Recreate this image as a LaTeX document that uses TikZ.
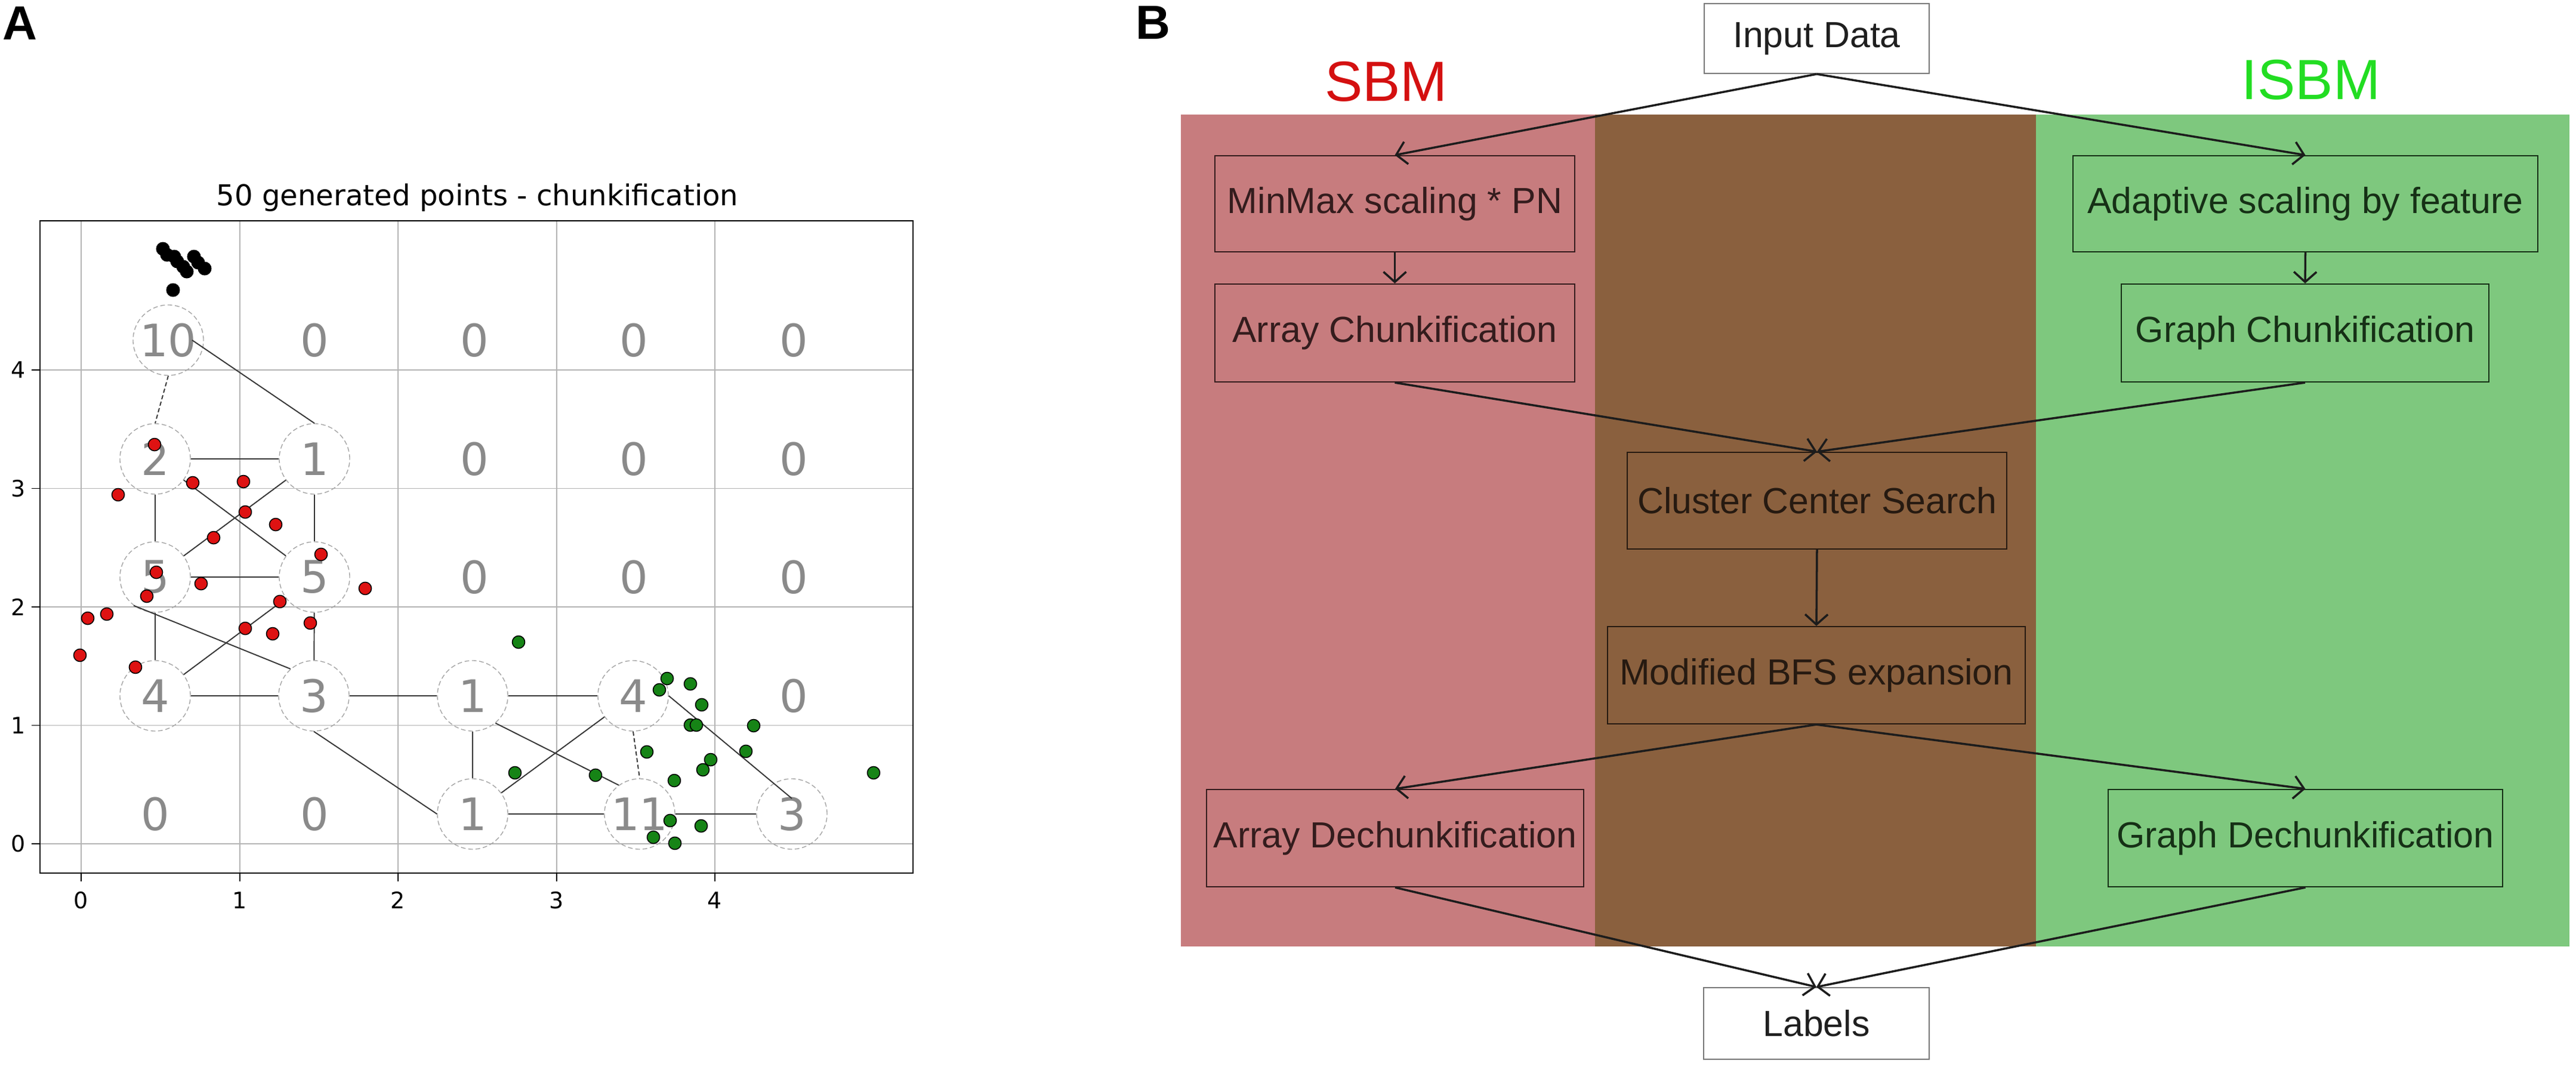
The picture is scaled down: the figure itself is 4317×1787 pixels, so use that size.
\documentclass[tikz,border=0pt]{standalone}
\usepackage{fontspec}
\setmainfont{Liberation Sans}
\newfontfamily\dejavu{DejaVu Sans}
\usetikzlibrary{arrows.meta}
\definecolor{regred}{RGB}{199,124,126}
\definecolor{regbrown}{RGB}{138,96,62}
\definecolor{reggreen}{RGB}{126,200,126}
\definecolor{sbmred}{RGB}{212,16,16}
\definecolor{isbmgreen}{RGB}{34,221,34}
\definecolor{txtred}{RGB}{52,28,29}
\definecolor{txtbrown}{RGB}{38,26,17}
\definecolor{txtgreen}{RGB}{22,48,22}
\definecolor{arrowcol}{RGB}{28,28,28}
\definecolor{boxgray}{RGB}{120,120,120}
\definecolor{gridgray}{RGB}{180,180,180}
\definecolor{circgray}{RGB}{165,165,165}
\definecolor{numgray}{RGB}{138,138,138}
\definecolor{edgegray}{RGB}{55,55,55}
\definecolor{dotred}{RGB}{222,18,18}
\definecolor{dotgreen}{RGB}{22,132,22}
\begin{document}
\begin{tikzpicture}[x=0.01cm,y=-0.01cm,
  fbox/.style={draw, line width=0.6pt, inner sep=0pt, font=\fontsize{17.3}{20}\selectfont},
  redbox/.style={fbox, draw=txtred, text=txtred},
  brownbox/.style={fbox, draw=txtbrown, text=txtbrown},
  greenbox/.style={fbox, draw=txtgreen, text=txtgreen},
  whitebox/.style={fbox, draw=boxgray, fill=white, text=black!88},
  flowarrow/.style={draw=arrowcol, line width=1pt, -{Straight Barb[length=0.17cm,width=0.38cm]}},
  paneltag/.style={font=\bfseries\fontsize{22.8}{26}\selectfont, inner sep=0pt, anchor=base},
  methodtag/.style={font=\fontsize{27}{30}\selectfont, inner sep=0pt, anchor=base},
  gridline/.style={draw=gridgray, line width=0.5pt},
  chunk/.style={circle, draw=circgray, line width=0.4pt, dash pattern=on 2.2pt off 1.3pt, minimum size=1.18cm, inner sep=0pt, text=numgray, font=\dejavu\fontsize{21.3}{24}\selectfont},
  zero/.style={inner sep=0pt, text=numgray, font=\dejavu\fontsize{21.3}{24}\selectfont},
  edge/.style={draw=edgegray, line width=0.55pt},
  dashededge/.style={edge, dash pattern=on 2pt off 1.2pt},
  ticklabel/.style={inner sep=0pt, font=\dejavu\fontsize{10.8}{12}\selectfont},
  reddot/.style={fill=dotred, draw=black, line width=0.45pt},
  greendot/.style={fill=dotgreen, draw=black, line width=0.45pt},
  blackdot/.style={fill=black}
]
\useasboundingbox (0,0) rectangle (4317,1787);
\fill[white] (0,0) rectangle (4317,1787);

% ================= Panel A =================
\node[paneltag] (tagA) at (33,66) {A};
\node[inner sep=0pt, anchor=base, font=\dejavu\fontsize{13.7}{16}\selectfont] (title) at (800,344) {50 generated points - chunkification};

% grid
\foreach \xx in {136,402,667,933,1198} {\draw[gridline] (\xx,370) -- (\xx,1463);}
\foreach \yy in {1414,1215.5,1017,818.5,620} {\draw[gridline] (67,\yy) -- (1530,\yy);}
% frame
\draw[line width=0.8pt] (67,370) rectangle (1530,1463);
% ticks and tick labels
\foreach \i/\xx in {0/136,1/402,2/667,3/933,4/1198} {
  \draw[line width=0.55pt] (\xx,1463) -- (\xx,1477);
  \node[ticklabel, anchor=north] (xt\i) at (\xx,1494) {\i};
}
\foreach \i/\yy in {0/1414,1/1215.5,2/1017,3/818.5,4/620} {
  \draw[line width=0.55pt] (67,\yy) -- (53,\yy);
  \node[ticklabel, anchor=east] (yt\i) at (43,\yy) {\i};
}

% chunk counts
\node[chunk] (n10) at (282,570) {10};
\node[zero] (z14) at (527,570) {0};
\node[zero] (z24) at (795,570) {0};
\node[zero] (z34) at (1062,570) {0};
\node[zero] (z44) at (1330,570) {0};
\node[chunk] (n2) at (260,769) {2};
\node[chunk] (n1a) at (527,769) {1};
\node[zero] (z23) at (795,769) {0};
\node[zero] (z33) at (1062,769) {0};
\node[zero] (z43) at (1330,769) {0};
\node[chunk] (n5a) at (260,967) {5};
\node[chunk] (n5b) at (527,967) {5};
\node[zero] (z22) at (795,967) {0};
\node[zero] (z32) at (1062,967) {0};
\node[zero] (z42) at (1330,967) {0};
\node[chunk] (n4a) at (260,1166) {4};
\node[chunk] (n3a) at (526,1166) {3};
\node[chunk] (n1b) at (792,1166) {1};
\node[chunk] (n4b) at (1061,1166) {4};
\node[zero] (z41) at (1330,1166) {0};
\node[zero] (z00) at (260,1364) {0};
\node[zero] (z10) at (527,1364) {0};
\node[chunk] (n1c) at (792,1364) {1};
\node[chunk] (n11) at (1072,1364) {11};
\node[chunk] (n3b) at (1327,1364) {3};

% chunk graph edges
\draw[dashededge] (n10.south) -- (n2.north);
\draw[edge] ([xshift=0.4cm]n10.center) -- (n1a.north);
\draw[edge] (n2) -- (n1a);
\draw[edge] (n2) -- (n5a);
\draw[edge] (n2) -- (n5b);
\draw[edge] (n1a) -- (n5a);
\draw[edge] (n1a) -- (n5b);
\draw[edge] (n5a) -- (n5b);
\draw[edge] (n5a) -- (n4a);
\draw[edge] (n5a.233) -- (n3a.131);
\draw[edge] (n4a) -- (n5b);
\draw[edge] (n5b) -- (n3a);
\draw[edge] (n4a) -- (n3a);
\draw[edge] (n3a) -- (n1b);
\draw[edge] (n1b) -- (n4b);
\draw[edge] (n3a.south) -- (n1c.west);
\draw[edge] (n1b) -- (n1c);
\draw[edge] (n1b.-50) -- (n11.126);
\draw[edge] (n1c) -- (n4b);
\draw[dashededge] (n4b.south) -- (n11.north);
\draw[edge] (n1c) -- (n11);
\draw[edge] (n11) -- (n3b);
\draw[edge] (n4b.east) -- ([yshift=0.26cm]n3b.center);

% data points
\foreach \px/\py in {273/417,280/427,292/430,297/438,307/447,313/455,325/430,332/440,343/450,290/486}
  {\fill[blackdot] (\px,\py) circle[radius=0.115cm];}
\foreach \px/\py in {259/745,323/809,408/807,198/829,411/858,462/879,358/901,538/929,262/959,337/978,246/999,612/986,469/1008,147/1036,179/1029,411/1053,520/1044,457/1062,134/1098,227/1118}
  {\filldraw[reddot] (\px,\py) circle[radius=0.105cm];}
\foreach \px/\py in {1118/1137,1105/1156,1157/1146,1176/1181,1157/1215,1167/1215,1263/1216,1084/1260,1250/1259,1191/1273,1178/1290,998/1299,1130/1308,1123/1375,1175/1384,1095/1403,1131/1413,869/1076,863/1295,1464/1295}
  {\filldraw[greendot] (\px,\py) circle[radius=0.105cm];}

% ================= Panel B =================
\node[paneltag] (tagB) at (1932,65) {B};
\fill[regred] (1979,192) rectangle (2673,1586);
\fill[regbrown] (2673,192) rectangle (3412,1586);
\fill[reggreen] (3412,192) rectangle (4306,1586);
\node[methodtag, text=sbmred] (sbm) at (2323,169) {SBM};
\node[methodtag, text=isbmgreen] (isbm) at (3873,166) {ISBM};

\node[whitebox, minimum width=3.77cm, minimum height=1.17cm] (input) at (3044.5,64.5) {Input Data};
\node[redbox, minimum width=6.03cm, minimum height=1.61cm] (minmax) at (2337.5,341.5) {MinMax scaling * PN};
\node[redbox, minimum width=6.03cm, minimum height=1.64cm] (arrch) at (2337.5,558) {Array Chunkification};
\node[greenbox, minimum width=7.79cm, minimum height=1.61cm] (adapt) at (3863.5,341.5) {Adaptive scaling by feature};
\node[greenbox, minimum width=6.16cm, minimum height=1.64cm] (grch) at (3863,558) {Graph Chunkification};
\node[brownbox, minimum width=6.36cm, minimum height=1.62cm] (clus) at (3045,839) {Cluster Center Search};
\node[brownbox, minimum width=7.00cm, minimum height=1.63cm] (bfs) at (3044,1131.5) {Modified BFS expansion};
\node[redbox, minimum width=6.32cm, minimum height=1.63cm] (ardech) at (2338,1404.5) {Array Dechunkification};
\node[greenbox, minimum width=6.61cm, minimum height=1.63cm] (grdech) at (3863.5,1404.5) {Graph Dechunkification};
\node[whitebox, minimum width=3.78cm, minimum height=1.20cm] (labels) at (3044,1715) {Labels};

\draw[flowarrow] (input.south) -- (minmax.north);
\draw[flowarrow] (input.south) -- (adapt.north);
\draw[flowarrow] (minmax.south) -- (arrch.north);
\draw[flowarrow] (adapt.south) -- (grch.north);
\draw[flowarrow] (arrch.south) -- (clus.north);
\draw[flowarrow] (grch.south) -- (clus.north);
\draw[flowarrow] (clus.south) -- (bfs.north);
\draw[flowarrow] (bfs.south) -- (ardech.north);
\draw[flowarrow] (bfs.south) -- (grdech.north);
\draw[flowarrow] (ardech.south) -- (labels.north);
\draw[flowarrow] (grdech.south) -- (labels.north);
\end{tikzpicture}
\end{document}
